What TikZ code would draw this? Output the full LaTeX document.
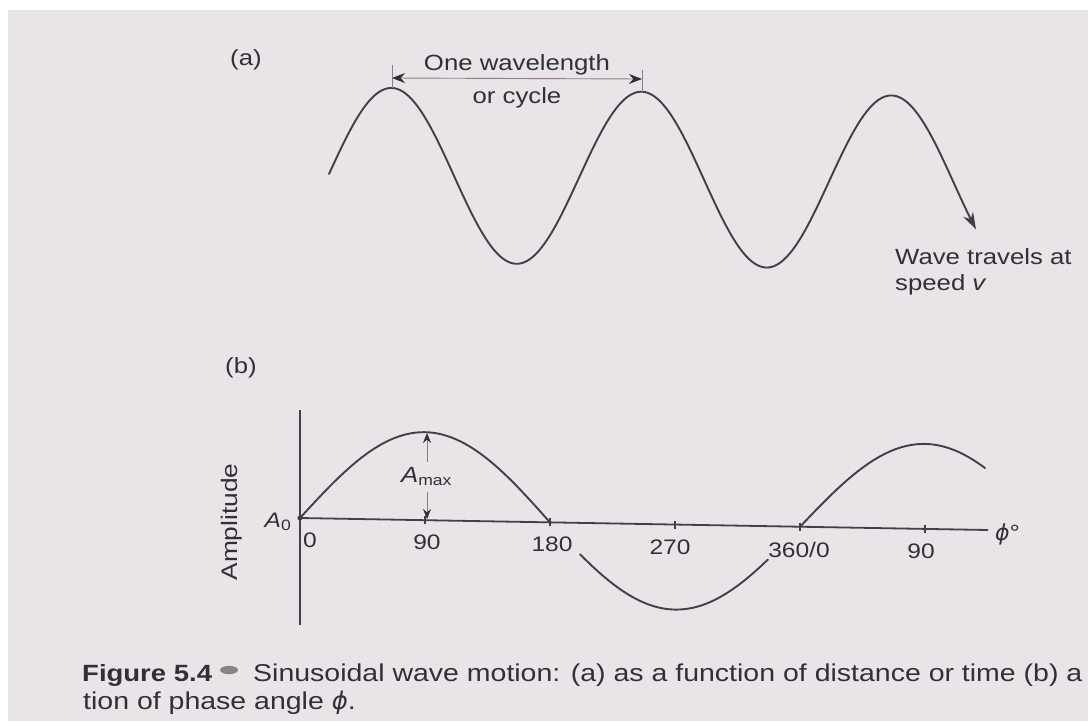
\documentclass[tikz,border=0pt]{standalone}
\usepackage{fontspec}
\setmainfont{Liberation Sans}[FakeStretch=1.17]
\newfontfamily\greekfont{DejaVu Sans}
\usetikzlibrary{arrows.meta}
\definecolor{paper}{RGB}{233,228,232}
\definecolor{ink}{RGB}{50,48,52}
\definecolor{wire}{RGB}{66,64,68}
\definecolor{shaft}{RGB}{150,122,130}
\definecolor{tickc}{RGB}{115,135,155}
\definecolor{dotc}{RGB}{135,132,136}
\newcommand\fsz[1]{\fontsize{#1}{#1}\selectfont}
\newcommand\phisym{{\greekfont\itshape ϕ}}
\begin{document}
\begin{tikzpicture}[x=1pt,y=-1pt,
  lbl/.style={text=ink,inner sep=0pt,font=\fsz{22}},
  numlbl/.style={text=ink,inner sep=0pt,font=\fsz{21},anchor=base},
  capt/.style={text=ink,inner sep=0pt,font=\fsz{24.35},anchor=base west},
  wave/.style={draw=wire,line width=1.9pt,line cap=round},
  axisline/.style={draw=wire,line width=1.8pt},
  ticklne/.style={draw=wire,line width=1.3pt},
  dimline/.style={draw=shaft,line width=0.9pt},
  endtick/.style={draw=tickc,line width=1pt},
  dimarrows/.style={dimline,{Stealth[color=ink,length=13pt,width=10pt]}-{Stealth[color=ink,length=13pt,width=10pt]}},
  amparrow/.style={dimline,-{Stealth[color=ink,length=10pt,width=8pt]}}]
\useasboundingbox (0,0) rectangle (1088,721);
\clip (0,0) rectangle (1088,721);
\fill[white] (0,0) rectangle (1088,721);
\fill[paper] (8,10) rectangle (1088,721);

% ---------- (a) ----------
\node[lbl,anchor=base west] (lbla) at (230,65) {(a)};
\draw[wave,-{Stealth[color=wire,length=17pt,width=11pt]}]
  plot[domain=329:976,samples=220] (\x,{174+0.015*(\x-329)-87*sin(1.44*(\x-329))});
\coordinate (wlL) at (392,78);
\coordinate (wlR) at (642,79);
\coordinate (tL1) at (392,65); \coordinate (tL2) at (392,88);
\coordinate (tR1) at (642,70); \coordinate (tR2) at (642,92);
\draw[endtick] (tL1) -- (tL2);
\draw[endtick] (tR1) -- (tR2);
\draw[dimarrows] (wlL) -- (wlR);
\node[lbl,anchor=base] (wl1) at (517,70) {One wavelength};
\node[lbl,anchor=base] (wl2) at (517,103) {or cycle};
\node[lbl,anchor=base west] (trav1) at (895,264) {Wave travels at};
\node[lbl,anchor=base west] (trav2) at (895,290) {speed \textit{v}};

% ---------- (b) ----------
\node[lbl,anchor=base west] (lblb) at (225,373) {(b)};
\coordinate (vtop) at (300,410);
\coordinate (vbot) at (300,625);
\coordinate (orig) at (300,518);
\coordinate (hend) at (988,530);
\draw[axisline] (vtop) -- (vbot);
\draw[axisline] (orig) -- (hend);
\fill[wire] (orig) circle (2.6);
\foreach \tx/\ty in {425/520.2,550/522.4,675/524.6,800/526.8,925/528.9}
  \draw[ticklne] ({\tx},{\ty-4}) -- ({\tx},{\ty+4});

\draw[wave] plot[domain=300:550,samples=120] (\x,{518+0.0175*(\x-300)-88*sin(0.72*(\x-300))});
\draw[wave] plot[domain=580:768,samples=100] (\x,{518+0.0175*(\x-300)+85*sin(0.72*(\x-550))});
\draw[wave] plot[domain=800:985,samples=100] (\x,{518+0.0175*(\x-300)-85*sin(0.72*(\x-800))});

\coordinate (amU) at (427,462);
\coordinate (amTop) at (427,433);
\coordinate (amD) at (427,492);
\coordinate (amBot) at (427,519);
\draw[amparrow] (amU) -- (amTop);
\draw[amparrow] (amD) -- (amBot);
\node[lbl,anchor=base west] (amax) at (401,482) {\textit{A}\raisebox{-3pt}{\fsz{15}max}};
\node[lbl,anchor=base east,font=\fsz{21}] (a0) at (291,527) {\textit{A}\raisebox{-3pt}{\fsz{15}0}};
\node[lbl,rotate=90,font=\fsz{22.5}] (ampl) at (232,522) {Amplitude};

\node[numlbl] (n0) at (310,547) {0};
\node[numlbl] (n90) at (427,549) {90};
\node[numlbl] (n180) at (552,551) {180};
\node[numlbl] (n270) at (670,554) {270};
\node[numlbl] (n360) at (799,557) {360/0};
\node[numlbl] (n90b) at (921,558) {90};
\node[lbl,anchor=west] (phi) at (995,534) {\phisym°};

% ---------- caption ----------
\node[capt,font=\fsz{23.5}] (cap1) at (82,681) {\textbf{Figure 5.4}};
\fill[dotc] (229,670) ellipse (9 and 4.2);
\node[capt] (cap2) at (253,681) {Sinusoidal wave motion: (a) as a function of distance or time (b) a};
\node[capt] (cap3) at (83,709) {tion of phase angle \phisym.};
\end{tikzpicture}
\end{document}
